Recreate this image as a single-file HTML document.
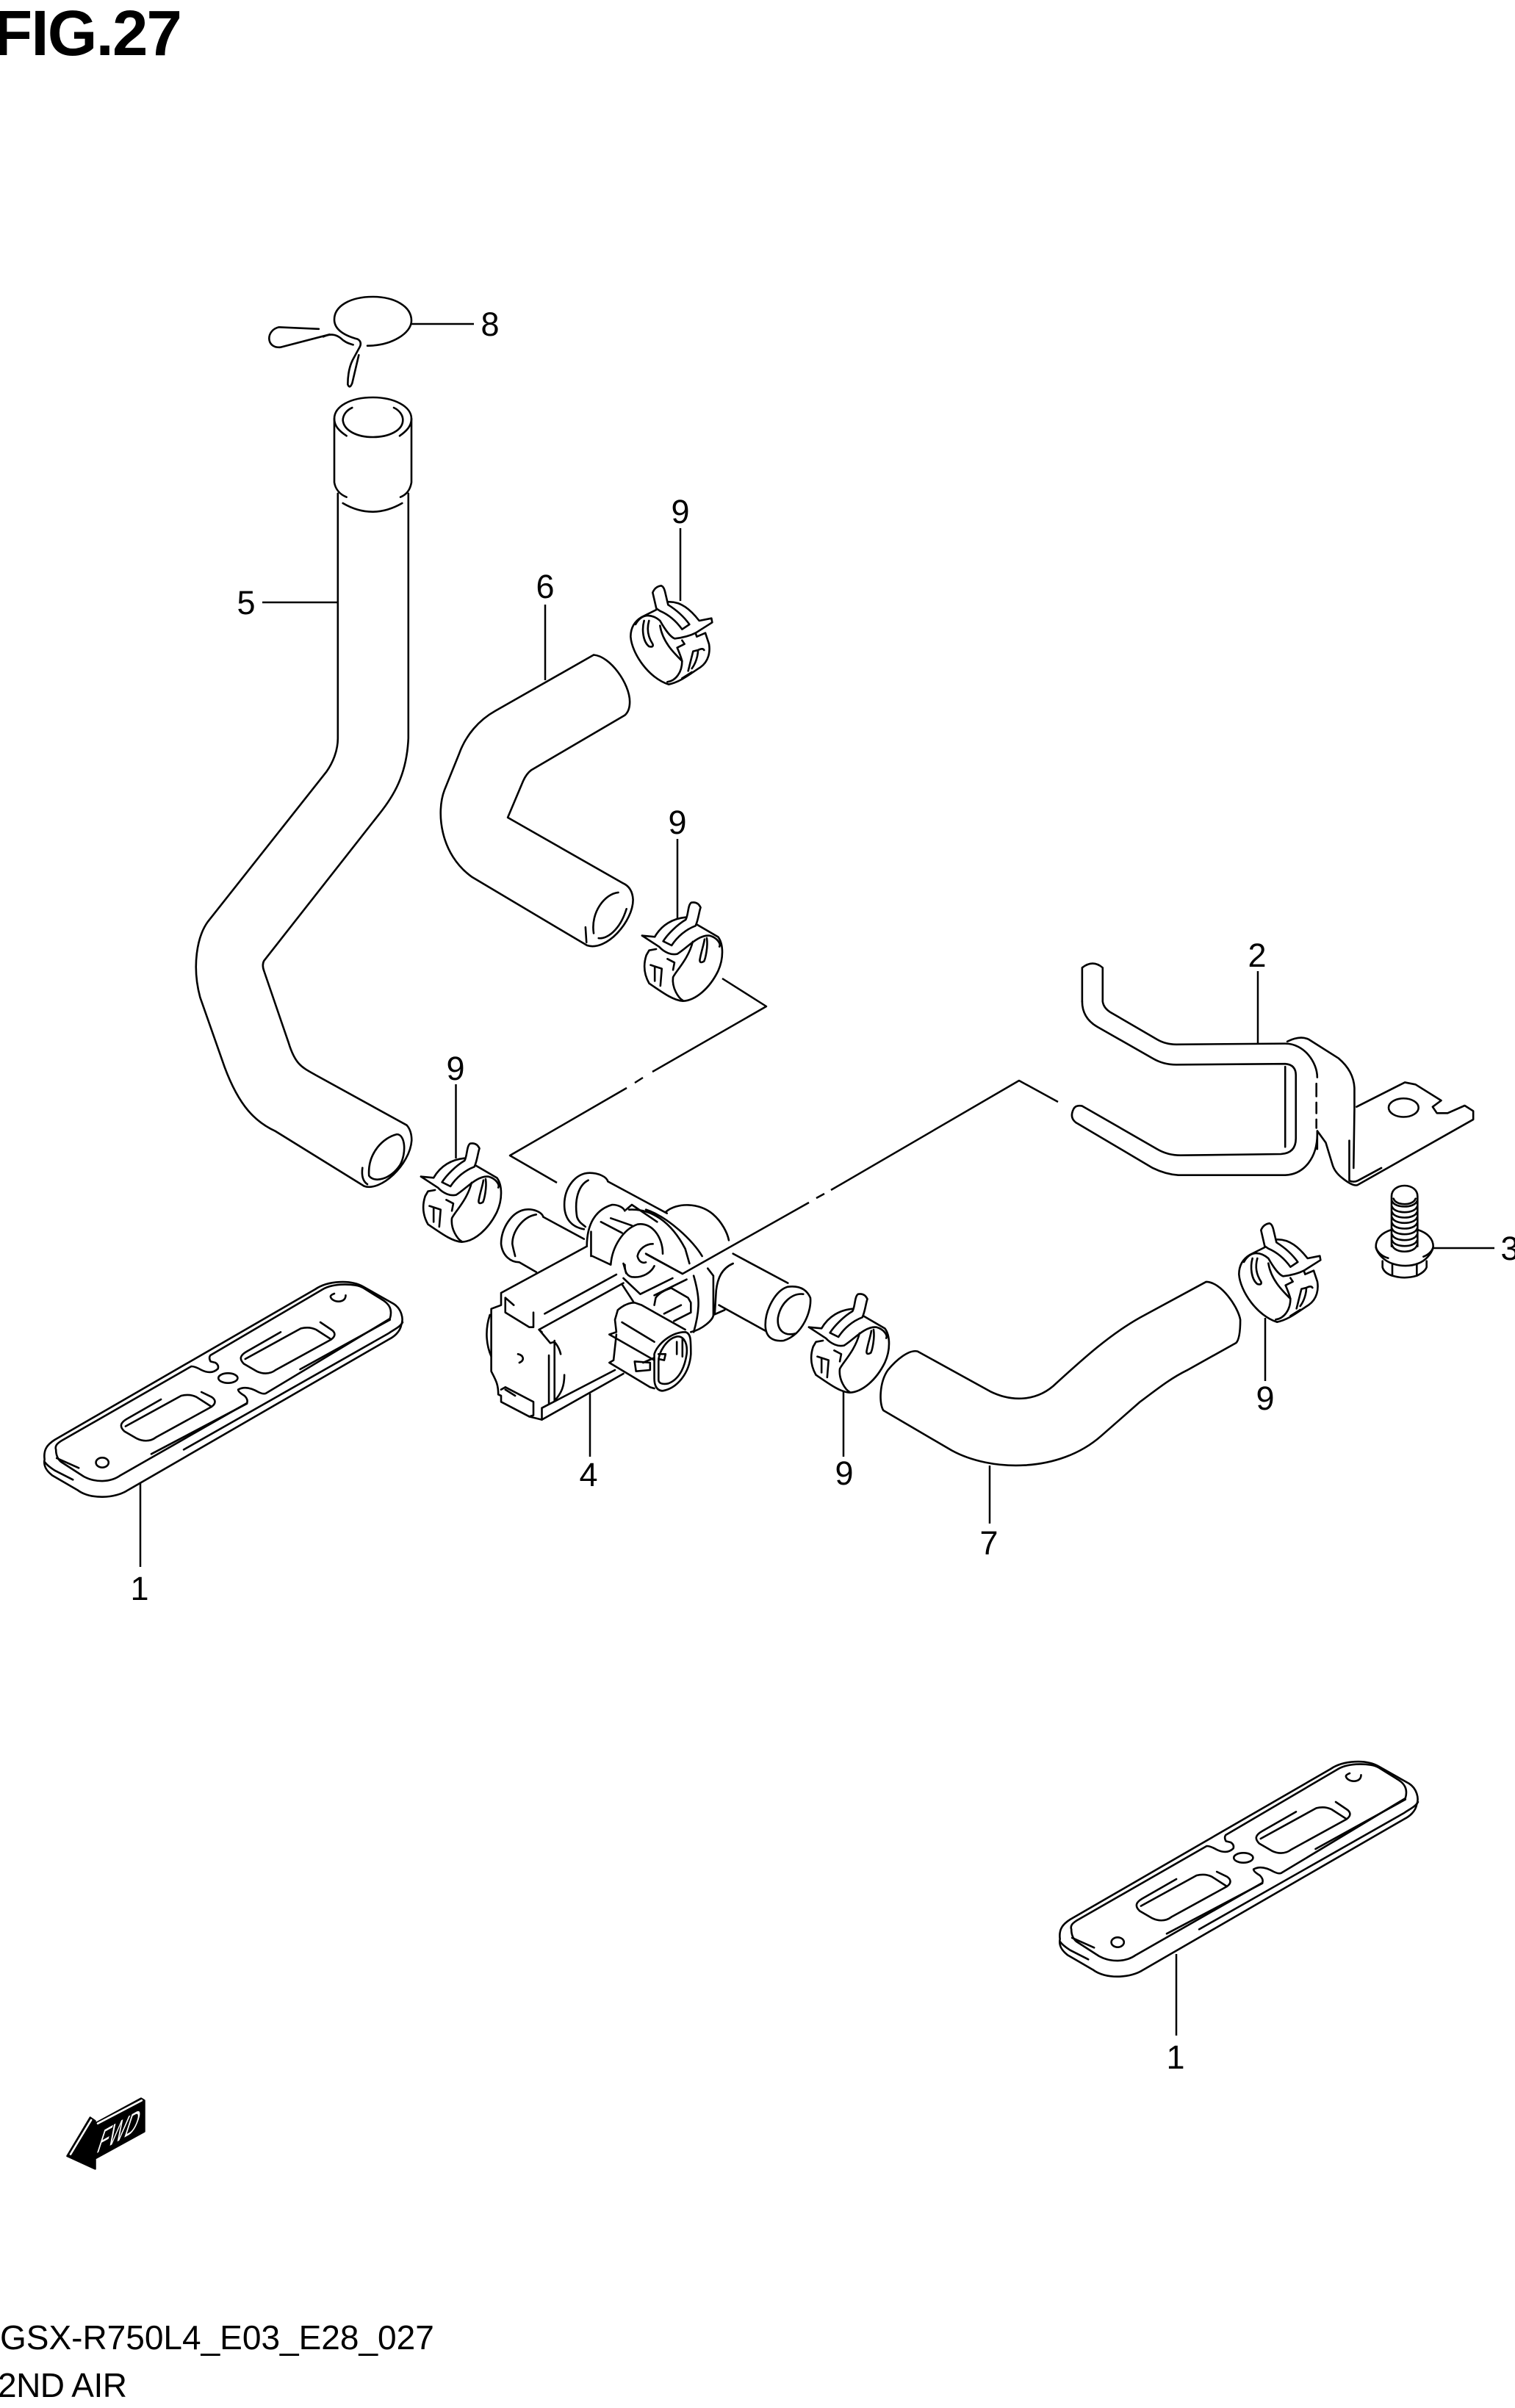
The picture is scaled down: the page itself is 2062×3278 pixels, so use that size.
<!DOCTYPE html>
<html><head><meta charset="utf-8"><style>
html,body{margin:0;padding:0;background:#fff}
svg{display:block}
path,ellipse,line{fill:none;stroke:#000;stroke-width:2.6;vector-effect:non-scaling-stroke;stroke-linecap:round;stroke-linejoin:round}
.l path{stroke-width:2.5;stroke-linecap:butt}
text{font-family:"Liberation Sans",sans-serif;fill:#000}
.n{font-size:45px;text-anchor:middle}
</style></head><body>
<svg xmlns="http://www.w3.org/2000/svg" width="2062" height="3278" viewBox="0 0 2062 3278">
<rect width="2062" height="3278" fill="#fff"/>
<defs>
<g id="clipA">
<path d="M190,205 L175,140 Q185,115 210,112 Q220,115 225,135 L238,190 C270,210 300,235 325,270 L295,290 C270,255 240,230 205,215 Z"/>
<path d="M238,178 C290,175 330,210 365,255 L415,245 L418,262 L350,305 C320,320 290,325 265,328 C245,320 225,290 205,255 C170,225 130,225 105,270"/>
<path d="M190,210 L130,240 C105,255 85,280 85,320 C90,390 160,490 240,515 C290,505 330,470 370,445 C405,420 410,380 405,350 L390,305"/>
<path d="M205,275 C215,340 260,385 295,420 C295,465 270,500 235,505"/>
<path d="M140,255 C130,290 135,340 160,360 Q180,365 175,350 C155,320 150,290 160,255"/>
<path d="M275,365 L305,350 L295,335 M350,305 L355,320 L390,305 M275,365 C290,400 295,420 295,420 M320,460 L340,380 L360,375 Q380,365 385,375 M335,450 C350,430 360,400 360,375 M295,490 L335,465"/>
</g>
<g id="clipC">
<path d="M215,90 C225,70 222,30 235,20 Q258,15 268,40 C262,60 260,90 250,115 C215,130 185,160 165,195 L135,178 C150,150 185,110 215,90"/>
<path d="M60,155 L105,160 C130,110 170,85 215,80"/>
<path d="M60,155 L120,200 C140,225 165,235 185,230 C220,205 260,150 300,155 C330,165 340,190 335,200"/>
<path d="M255,110 L330,160 C350,190 350,250 330,300 C300,370 250,420 205,422 C170,420 130,385 85,350 C65,310 65,270 75,235 L85,215 L110,210"/>
<path d="M240,180 C225,250 180,300 170,325 C165,370 190,410 205,420"/>
<path d="M290,165 C295,200 285,250 280,260 Q265,270 265,255 C270,220 280,190 282,170"/>
<path d="M90,275 L130,290 L125,360 M105,285 L105,340 M150,250 L175,265 L170,295"/>
</g>
<g id="gasket">
<path d="M60,860 C55,820 70,800 100,780 L1130,165 C1180,130 1270,125 1320,155 L1440,225 C1470,245 1480,285 1470,310 C1465,340 1440,360 1420,370 L390,985 C340,1020 240,1025 190,985 L90,925 C65,905 55,885 60,860"/>
<path d="M60,870 Q70,885 100,905 L172,943"/>
<path d="M1475,300 C1465,320 1440,330 1420,345 L610,820"/>
<path d="M105,820 C100,805 110,795 125,785 L640,480 Q655,480 680,495 Q720,515 745,490 Q750,475 735,465 L716,460 Q708,445 715,435 L1160,165 C1200,140 1290,140 1320,160 L1390,205 C1425,225 1435,250 1425,285 L935,590 Q925,595 905,585 C880,570 850,560 825,575 Q825,585 850,600 Q865,615 860,630 L360,925 C320,955 260,955 215,930 L125,870 C108,855 105,835 105,820"/>
<path d="M108,855 L195,895 M1070,492 L1425,290 M482,838 L860,632"/>
<path d="M520,615 L385,695 C360,710 355,725 375,745 L425,775 C445,785 475,790 500,770 L720,645 C740,630 735,615 720,605 L680,585 M380,725 L600,600 C620,595 640,595 660,605 L720,645"/>
<path d="M993,340 L858,420 C833,435 828,450 848,470 L898,500 C918,510 948,515 973,495 L1193,370 C1213,355 1208,340 1193,330 L1150,300 M853,450 L1073,325 C1093,320 1113,320 1133,330 L1193,370"/>
<ellipse cx="785" cy="528" rx="38" ry="20"/>
<ellipse cx="288" cy="873" rx="25" ry="20"/>
<path d="M1250,190 C1250,225 1195,220 1190,195 C1190,190 1200,185 1205,183"/>
</g>
</defs>

<text x="-9" y="75" font-size="87" font-weight="700" style="letter-spacing:-1.8px">FIG.27</text>

<!-- clip 8 and collar, traced at 3x -->
<g transform="translate(440,380) scale(.33333)">
<path d="M180,272 C280,272 360,220 360,170 C360,110 290,72 202,72 C110,72 45,110 45,165 C45,205 85,230 140,245 Q158,255 150,275 L120,330 C105,360 100,400 100,430 Q108,450 118,425 L145,310"/>
<path d="M0,235 C30,222 50,225 70,240 C85,255 100,262 122,268"/>
<path d="M95,640 C65,620 45,600 45,570 C45,520 110,483 202,483 C290,483 360,520 360,570 C360,600 340,620 312,640"/>
<path d="M118,525 C95,535 80,555 80,577 C85,620 140,645 202,645 C265,645 325,620 325,575 C325,555 310,535 288,525"/>
<path d="M45,570 L45,830 C50,860 70,880 95,890 M360,570 L360,830 C355,860 340,880 315,890"/>
<path d="M80,915 Q200,985 322,915"/>
</g>

<!-- hose 5, hose 6 -->
<g transform="translate(250,350) scale(.44643,.82925)">
<path d="M412,118 L290,115 C250,120 250,150 295,148 L445,127"/>
<path d="M470,388 L470,790 C470,810 455,830 435,845 L75,1090 C40,1115 25,1165 50,1215 L125,1330 C170,1395 220,1420 280,1435 L550,1525 C600,1535 690,1490 695,1450 C695,1435 685,1428 680,1425 L400,1342 C360,1330 340,1325 320,1290 L245,1172 Q238,1162 245,1155 L595,915 C640,885 680,850 685,790 L685,388"/>
<path d="M565,1508 C560,1470 610,1445 650,1440 C675,1440 680,1470 660,1490 C630,1515 580,1520 565,1508"/>
<path d="M545,1495 Q540,1515 560,1522"/>
<path d="M1250,653 C1300,655 1360,700 1360,730 Q1360,745 1345,752 L1060,842 Q1045,848 1035,860 L988,920 L1340,1028 Q1368,1035 1370,1055 C1370,1090 1290,1140 1230,1130 L880,1018 C780,980 770,910 795,875 L840,815 C860,785 900,760 950,745 L1250,653"/>
<path d="M1250,1110 C1240,1075 1285,1045 1325,1043 M1350,1070 C1330,1105 1290,1120 1265,1118 M1225,1100 L1228,1125"/>
</g>

<use href="#clipA" transform="translate(830,760) scale(.33333)"/>
<use href="#clipA" transform="translate(1658,1628) scale(.33333)"/>
<use href="#clipC" transform="translate(851,1222) scale(.38265,.33333)"/>
<use href="#clipC" transform="translate(550,1550) scale(.38265,.33333)"/>
<use href="#clipC" transform="translate(1078,1755) scale(.38265,.33333)"/>

<!-- valve -->
<g transform="translate(550,1550) scale(.38265,.33333)">
<path d="M725,175 C720,155 690,140 660,140 C610,140 570,200 570,270 C570,320 590,360 640,370 M655,170 C620,190 605,250 615,320 C620,340 635,350 645,360 M725,175 L935,305"/>
<path d="M495,320 C490,300 460,285 430,290 C380,300 345,370 345,430 C350,480 380,505 410,505 L470,545 M470,310 C420,320 385,380 385,430 C388,450 392,465 395,480 M495,320 L640,410"/>
<path d="M345,630 L650,440 M345,630 L345,680 L310,695 L310,950 C325,985 335,1000 335,1045 L345,1050 L345,1075 L445,1135 L490,1148 L780,960"/>
<path d="M360,650 L360,710 L445,770 L460,770 L460,710 M360,650 L390,680 M500,715 L755,555 M490,790 L480,780 L780,590 M305,720 C285,790 295,850 310,890"/>
<path d="M480,780 L520,835 L535,830 C550,850 555,870 557,880 M515,885 L515,1085 M535,825 L535,1070 C560,1040 570,1010 570,965 M490,1100 L490,1148 M490,1100 L750,945 M405,880 C425,885 430,905 410,915"/>
<path d="M345,1025 L360,1015 L460,1075 L460,1130 L445,1135 M360,1025 L395,1050"/>
<path d="M930,300 C970,260 1050,260 1100,310 C1130,340 1150,385 1155,415 M800,290 C880,285 950,340 1000,450 L1015,510 M860,290 C940,320 1030,420 1060,480 M1030,560 C1050,640 1055,690 1030,790"/>
<path d="M650,440 C650,350 680,290 740,270 C760,270 780,280 785,295 M665,380 L665,480 M670,480 L735,515 M735,515 C740,440 780,370 830,350 C880,340 920,400 920,470 M700,340 L775,385 M735,325 L810,355 M790,290 L810,270 L900,340"/>
<path d="M885,430 C860,430 835,450 830,480 C835,505 850,510 860,505 M860,470 L990,552 M890,520 C880,545 850,570 810,565 C790,560 785,540 785,515 M780,510 L790,550"/>
<path d="M780,570 L840,635 L955,570 M775,595 L815,665 M890,640 L1005,575 M890,680 L895,650 Q910,625 950,610 L1010,650 L1020,670 L1020,710 M925,715 L985,680 M960,745 L1020,710"/>
<path d="M760,700 C780,680 800,670 820,670 L845,680 L1000,780 M760,700 L750,740 L755,790 L730,800 L890,905 M775,750 L890,830 M755,800 L745,905 L730,915 L875,1015 L890,1020"/>
<path d="M1000,790 C1020,795 1020,820 1020,880 C1015,960 970,1020 920,1030 C895,1030 890,1000 890,980 L890,880 C900,840 950,790 1000,790 M965,810 C935,820 905,870 905,910 L905,985 C905,1000 920,1005 940,1000 C985,980 1000,920 1005,880 C1010,830 990,800 965,810 M970,830 L970,880 M990,820 L990,890 M905,880 L930,880 L925,905 L905,900 M820,910 L875,915 L875,945 L825,950 Z M890,895 L850,915"/>
<path d="M1170,470 L1365,590 M1120,680 L1285,785 M1365,605 C1400,600 1430,610 1445,650 C1450,700 1420,800 1350,825 C1310,830 1285,810 1285,760 C1285,700 1320,620 1365,605 M1420,635 C1380,630 1340,670 1330,730 C1325,780 1350,810 1395,795"/>
<path d="M1170,510 C1130,530 1115,570 1110,620 L1105,715 M1080,530 L1100,560 L1100,720 L1140,700 M1020,790 C1060,780 1100,740 1100,720"/>
</g>

<!-- bracket 2, hose 7 -->
<g transform="translate(1150,1280) scale(.58175,.57398)">
<path d="M555,145 L555,65 Q580,45 603,65 L603,145 Q605,160 620,170 L730,235 Q750,247 775,247 L1030,245 C1075,245 1105,290 1105,325"/>
<path d="M1105,460 C1105,515 1075,555 1030,557 L780,557 Q750,555 720,540 L540,432 Q525,420 535,400 Q540,390 555,393 L730,495 Q755,510 785,510 L1020,507 Q1055,505 1055,470 L1055,320 Q1055,295 1030,293 L775,295 Q745,295 720,280 L590,205 C565,190 555,170 555,145"/>
<path d="M1030,300 L1030,490 M1103,340 L1103,370 M1103,385 L1103,410 M1103,425 L1103,445"/>
<path d="M1035,240 Q1065,225 1085,235 L1155,280 Q1190,310 1192,350 L1192,400 L1190,540 M1197,395 L1310,337 L1335,342 L1395,380 L1375,395 L1385,410 L1410,410 L1450,392 L1470,405 L1470,425 L1200,580 Q1190,585 1165,565 Q1145,550 1140,530 L1125,480 L1105,452 L1105,495 M1180,475 L1180,570 Q1190,575 1200,570 L1255,540"/>
<ellipse cx="1307" cy="397" rx="35" ry="22"/>
<path d="M845,810 L690,895 C620,935 560,990 495,1050 C450,1095 390,1095 340,1070 L170,975 C150,970 120,995 100,1020 C80,1050 80,1100 90,1115 L250,1210 C340,1260 500,1265 600,1175 L690,1095 C730,1065 760,1040 800,1020 L915,955 Q925,945 925,900 C920,870 880,810 845,810 Z"/>
</g>

<!-- bolt 3, traced at 3x -->
<g transform="translate(1850,1600) scale(.33333)">
<path d="M132,290 L132,85 C132,60 155,42 185,42 C215,42 238,60 238,85 L238,290"/>
<path d="M140,95 C150,125 220,125 230,95 M134,105 C145,135 225,135 236,105"/>
<path d="M134,128 C145,158 225,158 236,128 M134,150 C145,180 225,180 236,150 M134,172 C145,202 225,202 236,172 M134,195 C145,225 225,225 236,195 M134,218 C145,248 225,248 236,218 M134,242 C145,272 225,272 236,242 M134,266 C145,296 225,296 236,266 M134,285 C145,320 225,320 236,285"/>
<path d="M132,222 C90,235 68,260 68,290 C70,310 90,330 118,338 M238,222 C280,235 302,260 302,290 C300,310 280,325 262,332"/>
<path d="M68,295 C75,320 100,350 140,362 C170,372 210,372 240,360 C270,350 295,320 302,295"/>
<path d="M95,350 L95,375 C100,395 120,405 135,410 Q185,425 235,410 C255,400 270,390 275,375 L275,350 M135,365 L135,410 M235,365 L235,410"/>
</g>

<!-- gaskets -->
<use href="#gasket" transform="translate(40,1700) scale(.34439,.33333)"/>
<use href="#gasket" transform="translate(1422,2353) scale(.34439,.33333)"/>

<!-- leaders -->
<g class="l">
<path d="M560,441 L645,441 M357,820 L460,820 M742,823 L742,926 M926,719 L926,818 M922,1142 L922,1250 M620.5,1476 L620.5,1577"/>
<path d="M803,1897 L803,1983 M1148,1893 L1148,1983 M1712,1322 L1712,1421 M1347,1995 L1347,2074 M1722,1794 L1722,1880 M1951,1699 L2034,1699"/>
<path d="M191,2018 L191,2133 M1601,2660 L1601,2771"/>
<path d="M758,1610 L694,1573 L853,1481 M864,1474 L875,1467 M888,1459 L1043,1370 L983,1332"/>
<path d="M879,1707 L929,1734 L1101,1637 M1111,1631 L1122,1625 M1131,1620 L1387,1471 L1440,1500"/>
</g>

<!-- labels -->
<text class="n" x="667" y="457">8</text>
<text class="n" x="335" y="836">5</text>
<text class="n" x="742" y="814">6</text>
<text class="n" x="926" y="712">9</text>
<text class="n" x="922" y="1135">9</text>
<text class="n" x="620" y="1470">9</text>
<text class="n" x="801" y="2023">4</text>
<text class="n" x="1149" y="2021">9</text>
<text class="n" x="1711" y="1316">2</text>
<text class="n" x="2055" y="1715">3</text>
<text class="n" x="1722" y="1919">9</text>
<text class="n" x="1346" y="2116">7</text>
<text class="n" x="190" y="2178">1</text>
<text class="n" x="1600" y="2816">1</text>

<!-- FWD arrow -->
<g transform="translate(0,2800) scale(.44643,.33333)">
<path style="fill:#000;stroke:#000" d="M205,405 L275,248 L290,262 L290,272 L430,170 L440,178 L440,305 L290,415 L290,457 Z"/>
<path style="stroke:#fff" d="M215,398 L278,258 M298,272 L432,178"/>
</g>
<text transform="matrix(1.2,-.68,-.75,2.3,130,2932)" font-size="20" style="fill:#fff">FWD</text>

<text x="0" y="3198" font-size="46">GSX-R750L4_E03_E28_027</text>
<text x="-3" y="3263" font-size="46" style="letter-spacing:-.5px">2ND AIR</text>
</svg>
</body></html>
